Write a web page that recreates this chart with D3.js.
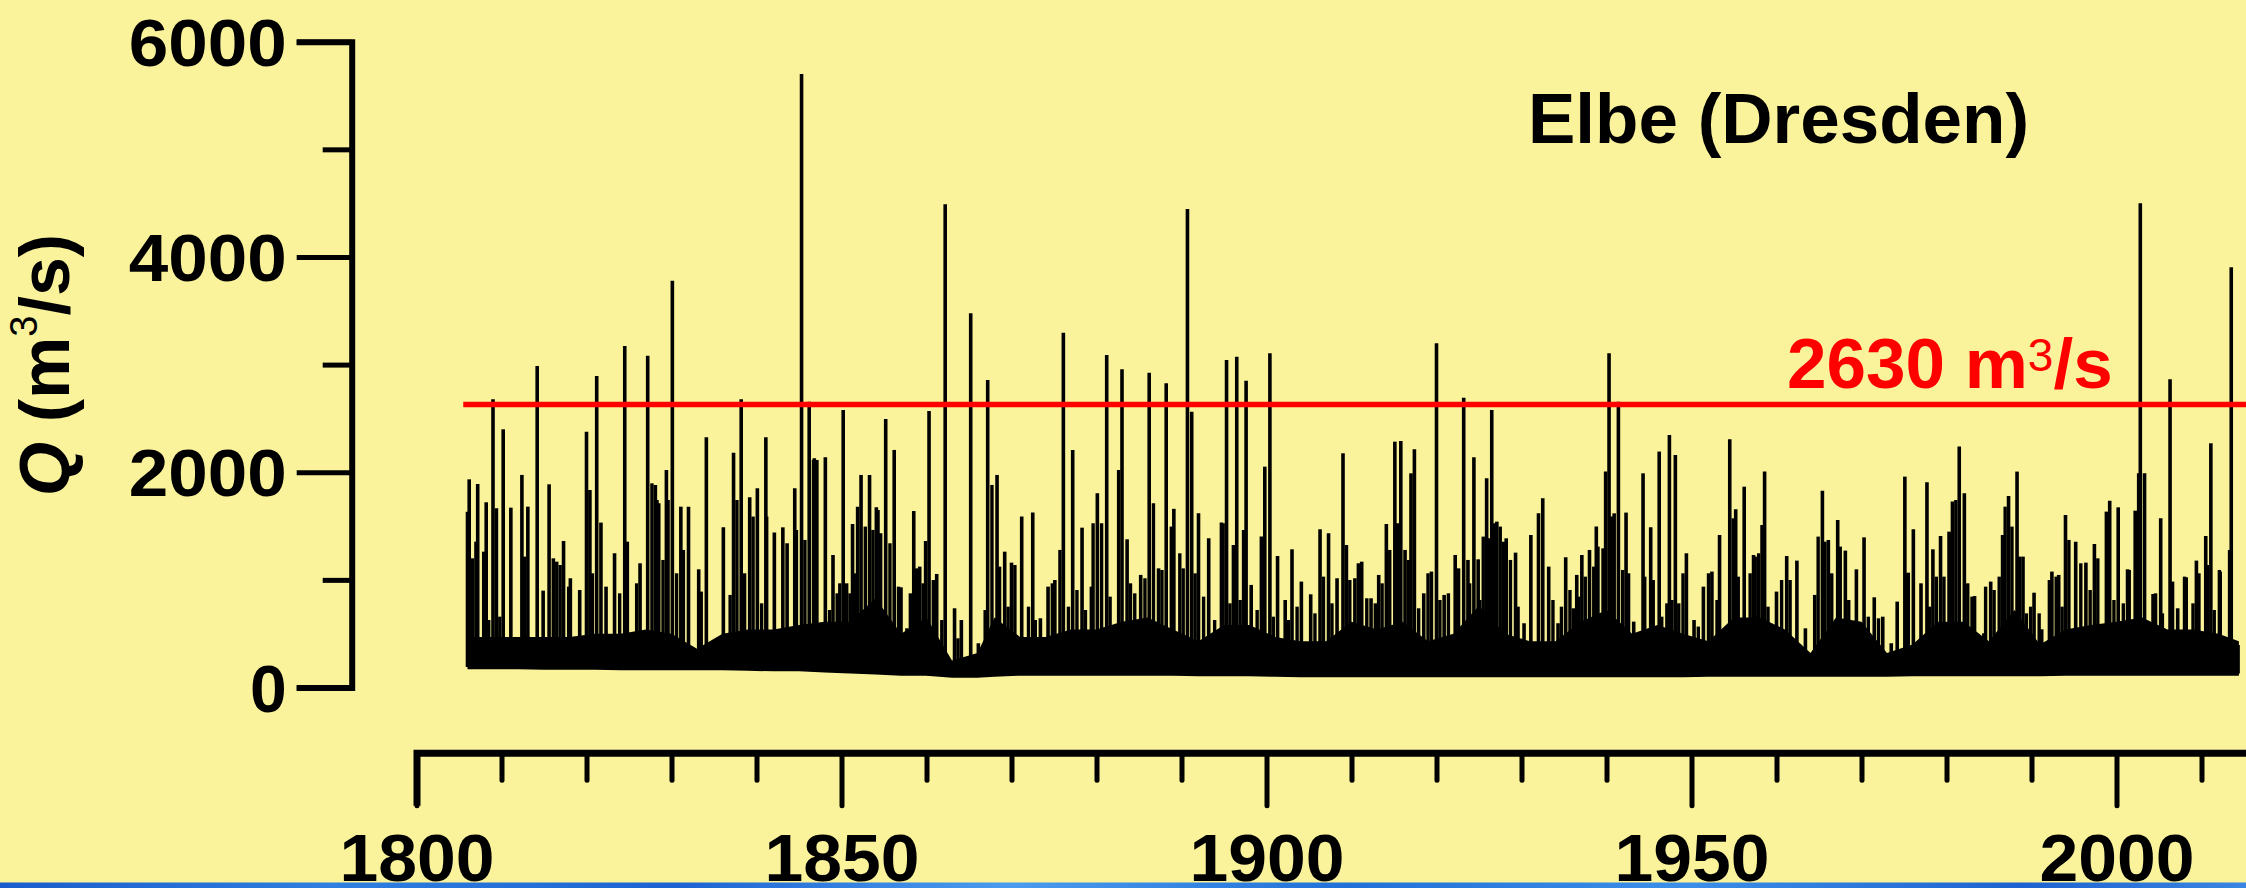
<!DOCTYPE html>
<html><head><meta charset="utf-8">
<script src="https://cdn.jsdelivr.net/npm/d3@7/dist/d3.min.js"></script>
<style>html,body{margin:0;padding:0;background:#faf39b;overflow:hidden}</style>
</head><body>
<svg id="c" width="2246" height="888"></svg>
<script>
// ---------- data ----------
// main flood peaks (year, m3/s)
const spikeYear = [
1806.0,1806.2,1807.0,1807.2,1808.2,1809.0,1809.4,1810.2,1811.1,1812.4,1813.1,1814.2,1814.9,1815.6,1816.1,1817.3,1818.1,1819.2,1820.0,1820.4,
1821.2,1821.7,1822.3,1823.3,1824.5,1824.8,1826.3,1827.2,1828.1,1828.5,1829.4,1830.1,1831.1,1832.0,1833.2,1834.1,1836.1,1837.3,1838.2,1839.2,
1840.1,1841.1,1842.1,1843.1,1843.6,1844.5,1845.3,1846.2,1846.8,
1847.1,1848.1,1849.0,1849.5,1850.2,1850.6,1851.3,1851.9,1852.3,1853.3,1854.1,1854.6,1855.2,1856.2,1857.0,1857.7,1858.5,1859.2,1859.9,1860.3,
1861.2,1862.2,1863.3,1864.1,1865.2,1866.1,1867.2,1868.3,1869.2,1870.0,1871.2,1872.5,1873.4,1874.3,1875.1,1876.1,1877.2,1878.3,1879.4,1880.1,
1881.2,1883.0,1883.6,1885.2,1886.2,1887.3,1888.2,1889.1,
1890.7,1891.2,1892.0,1893.2,1894.7,1895.3,1896.5,1897.6,1898.2,1899.4,1899.8,1900.4,1901.3,1902.2,1903.0,1904.1,1905.2,1906.3,1907.3,1908.3,
1909.0,1909.4,1910.4,1911.2,1912.3,1913.2,1914.1,1915.1,1915.8,1916.3,1917.0,1917.4,1918.5,1919.4,1920.0,1920.9,1922.2,1923.2,1923.7,1924.4,
1924.9,1925.9,1926.5,1927.1,1928.2,1929.3,1930.3,1931.1,
1932.0,1932.5,1933.2,1934.3,1935.2,1936.1,1936.5,1937.1,1938.0,1938.8,1939.6,1939.9,1940.3,1940.9,1941.4,1942.3,1943.2,1944.3,1945.2,1946.2,
1947.4,1948.1,1949.4,1950.3,1951.4,1952.4,1953.3,1954.5,1955.2,1956.2,1957.3,1958.3,1958.6,1960.0,1961.2,1962.4,1963.4,1964.5,1965.4,1966.1,
1967.2,1968.1,1969.4,1970.3,1971.5,1972.5,
1973.5,1974.2,1975.1,1975.5,1976.1,1977.0,1977.7,1978.4,1979.3,1980.3,1980.7,1981.5,1982.1,1983.3,1984.4,1985.2,1986.6,1987.3,1988.3,1989.0,
1990.3,1991.2,1992.4,1993.2,1994.0,1995.2,1996.4,1997.4,1998.4,1999.2,2000.2,2001.3,2002.2,2002.8,2003.3,2004.3,2005.2,2006.3,2007.2,2008.2,
2009.4,2010.5,2011.1,2012.2,2013.5,2014.3
];
const spikeQ = [
1634,1934,1355,1891,1721,2678,1665,2399,1671,1975,1680,2987,900,1888,1200,1361,1015,906,2377,1835,
2894,1532,937,1247,3173,1355,1154,3083,1882,1711,2021,3780,1680,1680,1098,2325,1488,2182,2678,1767,
1851,2325,1439,1488,1340,1851,5700,2656,2130,
2114,2139,1231,875,2579,968,1519,1680,1975,1975,1674,1433,2495,2207,931,550,1640,1123,1361,2569,
1055,4490,736,627,3477,411,2857,1975,1262,1160,1588,1625,643,937,999,3297,2207,1485,937,1804,
3090,2956,1377,1046,2925,1107,2826,1660,
4446,2563,1618,1386,1532,3043,3074,2851,953,1402,2052,3105,1222,813,1284,984,866,1470,1433,1015,
2176,1324,1015,1169,829,1046,1519,2284,2290,1278,1990,2213,875,1077,3198,860,1231,2693,1185,2139,
1191,1944,2579,1541,1386,1253,597,1417,
1618,1758,1123,597,1210,736,1046,1231,1278,1495,1293,2006,3105,1618,2656,1625,612,1990,1488,2192,
2346,2160,1247,627,937,1077,1417,2306,1656,1866,1231,1510,2006,891,1222,1179,550,860,1829,1371,
1557,1272,1098,1395,838,658,
411,798,1959,1067,1470,968,1907,1284,1408,1448,1727,2238,1804,850,504,984,1417,1780,2006,1216,
881,541,1077,1046,1603,1355,1160,1334,566,1736,1674,1098,1643,4500,1990,869,1572,2863,736,1024,
1179,1408,2269,1077,3904,395
];
// smaller floods between the main peaks (year, m3/s)
const minorYear = [
1806.6,1807.9,1808.5,1809.8,1812.7,1816.5,1816.9,1817.9,1820.7,1823.9,1825.9,1827.7,1828.3,1829.0,1829.6,1830.6,1831.4,1833.5,1836.9,1837.7,
1838.6,1839.6,1840.6,1841.2,1844.7,1845.7,1846.7,
1848.6,1849.8,1851.0,1851.6,1852.8,1853.7,1854.3,1855.7,1856.7,1858.1,1858.8,1859.6,1860.8,1861.8,1863.7,1866.9,1867.7,1868.6,1869.6,1870.4,
1872.0,1872.8,1874.8,1875.7,1876.7,1877.7,1878.7,1879.6,1880.6,1881.6,1882.6,1884.0,1884.5,1885.7,1886.7,1887.7,1888.8,
1889.8,1890.2,1891.6,1892.6,1893.9,1894.9,1895.7,1896.1,1896.9,1897.3,1898.9,1900.8,1902.6,1903.6,1905.7,1906.7,1907.7,1909.8,1910.8,1911.8,
1912.8,1913.6,1914.5,1915.4,1916.7,1917.9,1919.0,1920.4,1921.4,1922.6,1923.9,1925.1,1925.5,1926.1,1926.8,1927.5,1927.9,1928.7,1929.6,
1933.7,1934.7,1935.7,1936.7,1937.5,1938.5,1939.0,1940.6,1941.9,1942.6,1944.5,1945.5,1946.5,1947.1,1947.7,1948.5,1949.0,1950.8,1952.0,1953.0,
1954.9,1955.5,1956.9,1957.5,1957.9,1959.0,1960.6,1961.6,1964.9,1965.7,1966.5,1967.5,1968.5,1969.8,1970.8,1972.0,
1975.2,1978.0,1978.8,1979.7,1980.5,1981.1,1982.5,1983.0,1984.6,1985.6,1986.2,1986.9,1987.7,1988.6,1989.4,1989.9,1990.9,1992.1,1992.9,1993.6,
1994.4,1995.8,1996.9,1997.8,1998.8,1999.7,2000.8,2001.5,2002.6,2004.6,2005.4,2006.6,2008.0,2009.0,2009.7,2010.7,2011.5,2012.1,2013.3
];
const minorQ = [
1200,1262,627,658,1216,1169,1138,937,1061,875,968,1897,1742,1185,1742,1061,1278,891,860,1742,
1061,1588,782,1588,1464,1371,2114,
720,968,875,1061,1495,1464,1649,1340,937,875,1107,968,999,627,457,720,1882,1123,751,1138,
751,627,968,1278,751,906,720,1526,1526,844,2021,968,875,1015,1711,1092,1495,
1247,1107,1061,844,627,1526,782,1324,813,1464,720,658,627,751,689,1030,782,999,1154,829,
782,968,1278,1526,1185,736,1061,813,875,1107,968,813,1402,1386,1526,1495,1355,1185,751,
813,751,906,844,1030,1123,1309,1588,1092,1061,1030,999,658,782,813,782,1061,566,1061,813,
1572,1030,1061,1216,1247,751,999,999,1402,1355,1061,1309,813,566,658,643,
1061,751,1030,1030,1433,1742,968,844,937,906,1030,1680,1495,1216,689,751,689,999,1030,751,
1371,1154,906,1200,1634,813,782,1092,1990,875,689,984,1030,782,1061,1138,720,1092,1278
];
// dense low-flow band: upper and lower edge of the solid black mass
const bandYear = [1806,1809,1812,1815,1818,1821,1824,1827,1830,1833,1836,1839,1842,1845,1848,1851,1854,1857,1860,1863,
1866,1868,1871,1874,1877,1880,1883,1886,1889,1892,1895,1898,1901,1904,1907,1910,1913,1916,1919,1922,
1925,1928,1931,1934,1937,1940,1943,1946,1949,1952,1955,1958,1961,1964,1967,1970,1973,1976,1979,1982,
1985,1988,1991,1994,1997,2000,2003,2006,2009,2012,2014.4];
const bandTop = [470,470,470,470,470,500,500,540,500,360,500,540,540,580,610,610,830,500,650,250,
320,650,470,470,540,540,610,650,540,430,580,580,470,430,430,610,540,610,430,500,
760,500,430,430,610,720,500,580,500,430,650,650,540,320,650,610,320,400,610,610,
430,720,400,540,580,610,650,540,540,500,430];
const bandLow = [170,170,170,165,165,165,160,160,160,160,160,155,150,150,140,130,120,110,110,90,
90,100,110,110,110,110,110,110,110,105,105,105,100,95,95,95,95,95,95,95,
95,95,95,95,95,95,95,95,95,100,100,100,100,100,100,100,100,105,105,105,
105,105,105,110,110,110,110,110,110,110,110];
const yMajorTicks = [0,2000,4000,6000];
const yMinorTicks = [1000,3000,5000];
const xMajorTicks = [1800,1850,1900,1950,2000];
const xMinorTicks = [1810,1820,1830,1840,1860,1870,1880,1890,1910,1920,1930,1940,1960,1970,1980,1990,2010];
const threshold = 2630;
const titleText = "Elbe (Dresden)";

// ---------- drawing ----------
const svg = d3.select("#c");
const FONT = "'Liberation Sans', Arial, Helvetica, sans-serif";
svg.append("rect").attr("width",2246).attr("height",888).attr("fill","#faf39b");

const x = d3.scaleLinear().domain([1800,2020]).range([416.5,2286.5]);
const y = d3.scaleLinear().domain([0,6000]).range([687.5,41.7]);

// dense band of daily discharge
const band = bandYear.map((t,i)=>({t, top:bandTop[i], low:bandLow[i]}));
svg.append("path").datum(band)
  .attr("d", d3.area().x(d=>x(d.t)).y0(d=>y(d.low)).y1(d=>y(d.top)))
  .attr("fill","#000");

const lowAt = t => { const i = d3.bisectLeft(bandYear,t); const j=Math.max(0,Math.min(bandLow.length-1,i)); return bandLow[j]+20; };

// smaller floods
const minor = minorYear.map((t,i)=>({t, q:minorQ[i]}));
svg.append("g").selectAll("line").data(minor).join("line")
  .attr("x1",d=>x(d.t)).attr("x2",d=>x(d.t))
  .attr("y1",d=>y(lowAt(d.t))).attr("y2",d=>y(d.q))
  .attr("stroke","#000").attr("stroke-width",3.4);

// main peaks
const spikes = spikeYear.map((t,i)=>({t, q:spikeQ[i]}));
svg.append("g").selectAll("line").data(spikes).join("line")
  .attr("x1",d=>x(d.t)).attr("x2",d=>x(d.t))
  .attr("y1",d=>y(lowAt(d.t))).attr("y2",d=>y(d.q))
  .attr("stroke","#000").attr("stroke-width",3.6);

// threshold line
svg.append("line")
  .attr("x1",x(1805.5)).attr("x2",2246).attr("y1",y(threshold)).attr("y2",y(threshold))
  .attr("stroke","#ff0000").attr("stroke-width",5.5);

// Y axis
const yAxis = svg.append("g").attr("transform","translate(351.7,0)")
  .call(d3.axisLeft(y).tickValues(yMajorTicks).tickSize(55).tickSizeOuter(55).tickPadding(10).tickFormat(d3.format("d")));
yAxis.select(".domain").attr("stroke","#000").attr("stroke-width",6).attr("fill","none");
yAxis.selectAll(".tick line").attr("stroke","#000").attr("stroke-width",5);
yAxis.selectAll(".tick text").attr("font-family",FONT).attr("font-weight","bold").attr("font-size",66)
  .attr("fill","#000").attr("dy","0.36em")
  .each(function(d){ if(String(d).length===4){ d3.select(this).attr("textLength",158).attr("lengthAdjust","spacingAndGlyphs"); } });
const yMinor = svg.append("g").attr("transform","translate(351.7,0)")
  .call(d3.axisLeft(y).tickValues(yMinorTicks).tickSize(29).tickFormat(""));
yMinor.select(".domain").remove();
yMinor.selectAll(".tick line").attr("stroke","#000").attr("stroke-width",5);

// X axis
const xAxis = svg.append("g").attr("transform","translate(0,752.7)")
  .call(d3.axisBottom(x).tickValues(xMajorTicks).tickSize(53).tickSizeOuter(53).tickFormat(d3.format("d")));
xAxis.select(".domain").attr("stroke","#000").attr("stroke-width",7).attr("fill","none");
xAxis.selectAll(".tick line").attr("stroke","#000").attr("stroke-width",5).attr("stroke-linecap","round");
xAxis.selectAll(".tick text").attr("font-family",FONT).attr("font-weight","bold").attr("font-size",67)
  .attr("fill","#000").attr("y",128).attr("dy",0)
  .attr("textLength",155).attr("lengthAdjust","spacingAndGlyphs");
const xMinor = svg.append("g").attr("transform","translate(0,752.7)")
  .call(d3.axisBottom(x).tickValues(xMinorTicks).tickSize(27.5).tickFormat(""));
xMinor.select(".domain").remove();
xMinor.selectAll(".tick line").attr("stroke","#000").attr("stroke-width",5).attr("stroke-linecap","round");

// Y title
const yt = svg.append("text").attr("transform","translate(69,365) rotate(-90)")
  .attr("text-anchor","middle").attr("font-family",FONT).attr("font-weight","bold").attr("font-size",70).attr("fill","#000");
yt.append("tspan").attr("font-style","italic").text("Q");
yt.append("tspan").text(" (m");
yt.append("tspan").attr("font-size",38).attr("font-weight","normal").attr("dy",-32).text("3");
yt.append("tspan").attr("dy",32).text("/s)");

// Title
svg.append("text").attr("x",1528).attr("y",143).attr("font-family",FONT).attr("font-weight","bold")
  .attr("font-size",71).attr("fill","#000").text(titleText);

// threshold label
const tl = svg.append("text").attr("x",1787).attr("y",388).attr("font-family",FONT).attr("font-weight","bold")
  .attr("font-size",71).attr("fill","#ff0000");
tl.append("tspan").text(threshold + " m");
tl.append("tspan").attr("font-size",46).attr("font-weight","normal").attr("dy",-17).text("3");
tl.append("tspan").attr("dy",17).text("/s");

// bottom blue strip
const defs = svg.append("defs");
const g = defs.append("linearGradient").attr("id","blue").attr("x1","0").attr("x2","1");
[["0","#1a5ccc"],["0.15","#2f7fe0"],["0.3","#1c63d2"],["0.45","#4b9cee"],["0.6","#2170d8"],["0.75","#3c8fe8"],["0.9","#1d62d0"],["1","#3a86e2"]]
  .forEach(s=>g.append("stop").attr("offset",s[0]).attr("stop-color",s[1]));
svg.append("rect").attr("x",0).attr("y",882.5).attr("width",2246).attr("height",6).attr("fill","url(#blue)");
</script>
</body></html>
